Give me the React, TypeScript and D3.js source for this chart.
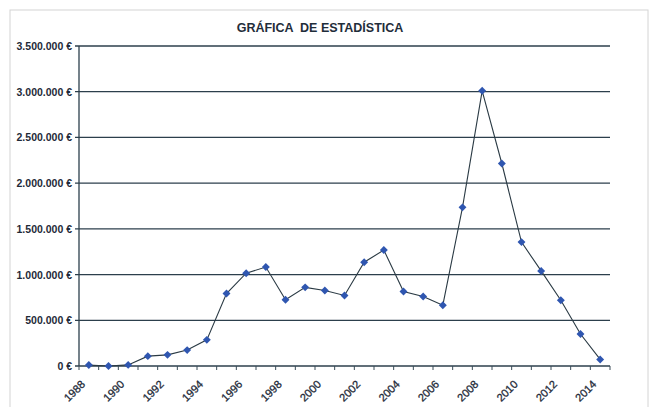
import React from 'react';
import * as d3 from 'd3';

const years = d3.range(1988, 2015).map(String);
const values = [
  10000, 0, 12000, 108000, 122000, 174000, 286000, 793000, 1015000, 1082000,
  725000, 860000, 825000, 772000, 1135000, 1268000, 815000, 760000, 665000,
  1735000, 3010000, 2215000, 1355000, 1040000, 720000, 350000, 72000,
];
const yTicks = [0, 500000, 1000000, 1500000, 2000000, 2500000, 3000000, 3500000];
const title = 'GRÁFICA  DE ESTADÍSTICA';

const W = 653;
const H = 407;
const m = { left: 79, right: 610, top: 46, bottom: 366 };

const fmt = (v: number) =>
  v === 0 ? '0 €' : d3.format(',')(v).replace(/,/g, '.') + ' €';

export default function App() {
  const x = d3.scaleBand().domain(years).range([m.left, m.right]);
  const y = d3.scaleLinear().domain([0, 3500000]).range([m.bottom, m.top]);
  const cx = (i: number) => (x(years[i]) as number) + x.bandwidth() / 2;
  const line = d3
    .line<number>()
    .x((_, i) => cx(i))
    .y((d) => y(d));
  const diamond = d3.symbol().type(d3.symbolDiamond2).size(40)();
  const boundaries = years.map((yr) => x(yr) as number).concat([m.right]);

  return (
    <svg
      width={W}
      height={H}
      style={{ position: 'absolute', left: 0, top: 0, background: '#fff' }}
      fontFamily="'Liberation Sans', Arial, sans-serif"
    >
      <rect x={10} y={10} width={638} height={400} fill="none" stroke="#d4d4d4" />
      <text
        x={320}
        y={32}
        textAnchor="middle"
        fontSize={12.5}
        fontWeight="bold"
        fill="#1f2d3a"
        style={{ whiteSpace: 'pre' }}
      >
        {title}
      </text>

      {/* grid + y labels */}
      {yTicks.map((t) => (
        <g key={t}>
          <line x1={m.left - 4} x2={m.right} y1={y(t)} y2={y(t)} stroke="#2c3f4c" strokeWidth={1.3} />
          <text
            x={m.left - 7}
            y={y(t) + 4}
            textAnchor="end"
            fontSize={10.5}
            fontWeight="bold"
            fill="#1e2a38"
          >
            {fmt(t)}
          </text>
        </g>
      ))}
      <line x1={m.left} x2={m.left} y1={m.top} y2={m.bottom} stroke="#2c3f4c" strokeWidth={1.3} />

      {/* x ticks */}
      {boundaries.map((b, i) => (
        <line key={i} x1={b} x2={b} y1={m.bottom} y2={m.bottom + 4} stroke="#3a4c58" strokeWidth={1} />
      ))}
      {years.map((yr, i) =>
        i % 2 === 0 ? (
          <text
            key={yr}
            transform={`translate(${cx(i) - 3},${m.bottom + 19}) rotate(-45)`}
            textAnchor="end"
            fontSize={11}
            fill="#1e2a38"
            stroke="#1e2a38"
            strokeWidth={0.3}
          >
            {yr}
          </text>
        ) : null
      )}

      <path d={line(values) || ''} fill="none" stroke="#2a3a44" strokeWidth={1.1} />
      {values.map((v, i) => (
        <path key={i} d={diamond || ''} transform={`translate(${cx(i)},${y(v)})`} fill="#2f56b0" />
      ))}
    </svg>
  );
}
